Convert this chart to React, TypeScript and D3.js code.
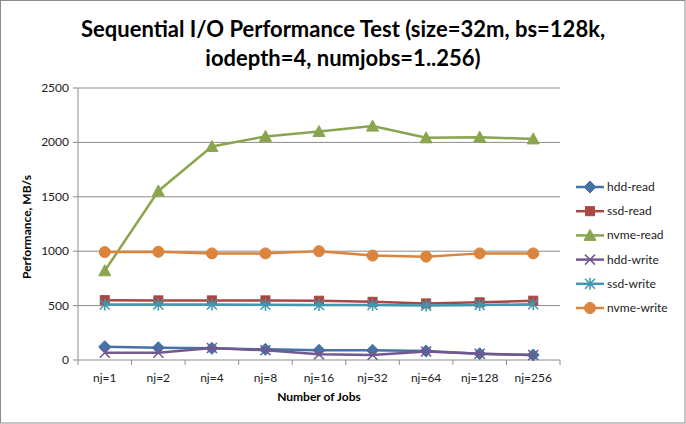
import React from "react";
import * as d3 from "d3";

const categories = ["nj=1", "nj=2", "nj=4", "nj=8", "nj=16", "nj=32", "nj=64", "nj=128", "nj=256"];
const seriesNames = ["hdd-read", "ssd-read", "nvme-read", "hdd-write", "ssd-write", "nvme-write"];
const hddRead = [122, 113, 107, 98, 89, 89, 83, 58, 46];
const ssdRead = [550, 548, 548, 548, 545, 535, 520, 530, 545];
const nvmeRead = [820, 1553, 1962, 2055, 2100, 2150, 2042, 2048, 2032];
const hddWrite = [67, 67, 110, 89, 52, 46, 78, 58, 46];
const ssdWrite = [510, 510, 510, 508, 505, 505, 500, 505, 512];
const nvmeWrite = [992, 995, 980, 980, 1000, 960, 950, 980, 980];
const yTicks = [0, 500, 1000, 1500, 2000, 2500];

const seriesValues = [hddRead, ssdRead, nvmeRead, hddWrite, ssdWrite, nvmeWrite];
const colors = ["#4572A7", "#AA4643", "#89A54E", "#71588F", "#4198AF", "#DB843D"];
const markers = ["diamond", "square", "triangle", "x", "star", "circle"];

const W = 686, H = 424;
const left = 78, right = 560, top = 88, bottom = 360;
const font = "Lato, 'Open Sans', sans-serif";

function Marker({ type, x, y, color }: { type: string; x: number; y: number; color: string }) {
  switch (type) {
    case "diamond":
      return <path d={`M${x},${y - 6}L${x + 6},${y}L${x},${y + 6}L${x - 6},${y}Z`} fill={color} stroke={color} strokeWidth={1} />;
    case "square":
      return <rect x={x - 4.5} y={y - 4.5} width={9} height={9} fill={color} stroke={color} strokeWidth={1} />;
    case "triangle":
      return <path d={`M${x},${y - 6}L${x + 6},${y + 5}L${x - 6},${y + 5}Z`} fill={color} stroke={color} strokeWidth={1} />;
    case "x":
      return <path d={`M${x - 5},${y - 5}L${x + 5},${y + 5}M${x - 5},${y + 5}L${x + 5},${y - 5}`} stroke={color} strokeWidth={1.5} fill="none" />;
    case "star":
      return <path d={`M${x - 5},${y - 5}L${x + 5},${y + 5}M${x - 5},${y + 5}L${x + 5},${y - 5}M${x},${y - 6}L${x},${y + 6}`} stroke={color} strokeWidth={1.5} fill="none" />;
    default:
      return <circle cx={x} cy={y} r={5.5} fill={color} stroke={color} strokeWidth={1} />;
  }
}

export default function App() {
  const x = d3.scaleBand<string>().domain(categories).range([left, right]);
  const y = d3.scaleLinear().domain([0, 2500]).range([bottom, top]);
  const line = d3.line<number>().x((_, i) => (x(categories[i]) as number) + x.bandwidth() / 2).y((d) => y(d));
  const tickXs = categories.map((c) => x(c) as number).concat([right]);

  return (
    <svg width={W} height={H} style={{ position: "absolute", left: 0, top: 0 }}>
      <rect x={0.5} y={0.5} width={W - 1.5} height={H - 1.5} fill="#fff" stroke="#8c8c8c" strokeWidth={1} />
      <text x={343} y={37} textAnchor="middle" fontFamily={font} fontWeight="bold" fontSize={22} fill="#000">
        Sequential I/O Performance Test (size=32m, bs=128k,
      </text>
      <text x={343} y={66} textAnchor="middle" fontFamily={font} fontWeight="bold" fontSize={22} fill="#000">
        iodepth=4, numjobs=1..256)
      </text>
      {yTicks.map((t) => (
        <g key={t}>
          {t > 0 && <line x1={left} x2={right} y1={y(t)} y2={y(t)} stroke="#8c8c8c" strokeWidth={1} />}
          <line x1={left - 5} x2={left} y1={y(t)} y2={y(t)} stroke="#8c8c8c" />
          <text x={left - 9} y={y(t) + 4} textAnchor="end" fontFamily={font} fontSize={12} fill="#222">
            {t}
          </text>
        </g>
      ))}
      <line x1={left} x2={left} y1={top} y2={bottom} stroke="#8c8c8c" />
      <line x1={left} x2={right} y1={bottom} y2={bottom} stroke="#8c8c8c" />
      {tickXs.map((tx, i) => (
        <line key={i} x1={tx} x2={tx} y1={bottom} y2={bottom + 5} stroke="#8c8c8c" />
      ))}
      {categories.map((c) => (
        <text key={c} x={(x(c) as number) + x.bandwidth() / 2} y={bottom + 22} textAnchor="middle" fontFamily={font} fontSize={12} fill="#222">
          {c}
        </text>
      ))}
      <text x={319} y={401} textAnchor="middle" fontFamily={font} fontWeight="bold" fontSize={12} fill="#000">
        Number of Jobs
      </text>
      <text transform={`translate(31,${(top + bottom) / 2 + 3}) rotate(-90)`} textAnchor="middle" fontFamily={font} fontWeight="bold" fontSize={12} fill="#000">
        Performance, MB/s
      </text>
      {seriesValues.map((vals, si) => (
        <g key={si}>
          <path d={line(vals) || ""} fill="none" stroke={colors[si]} strokeWidth={2.5} strokeLinejoin="round" />
          {vals.map((v, i) => (
            <Marker key={i} type={markers[si]} x={(x(categories[i]) as number) + x.bandwidth() / 2} y={y(v)} color={colors[si]} />
          ))}
        </g>
      ))}
      {seriesNames.map((n, i) => {
        const ly = 187 + i * 24.2;
        return (
          <g key={n}>
            <line x1={576} x2={604} y1={ly} y2={ly} stroke={colors[i]} strokeWidth={2.5} />
            <Marker type={markers[i]} x={590} y={ly} color={colors[i]} />
            <text x={607} y={ly + 4} fontFamily={font} fontSize={12} fill="#222">
              {n}
            </text>
          </g>
        );
      })}
    </svg>
  );
}
